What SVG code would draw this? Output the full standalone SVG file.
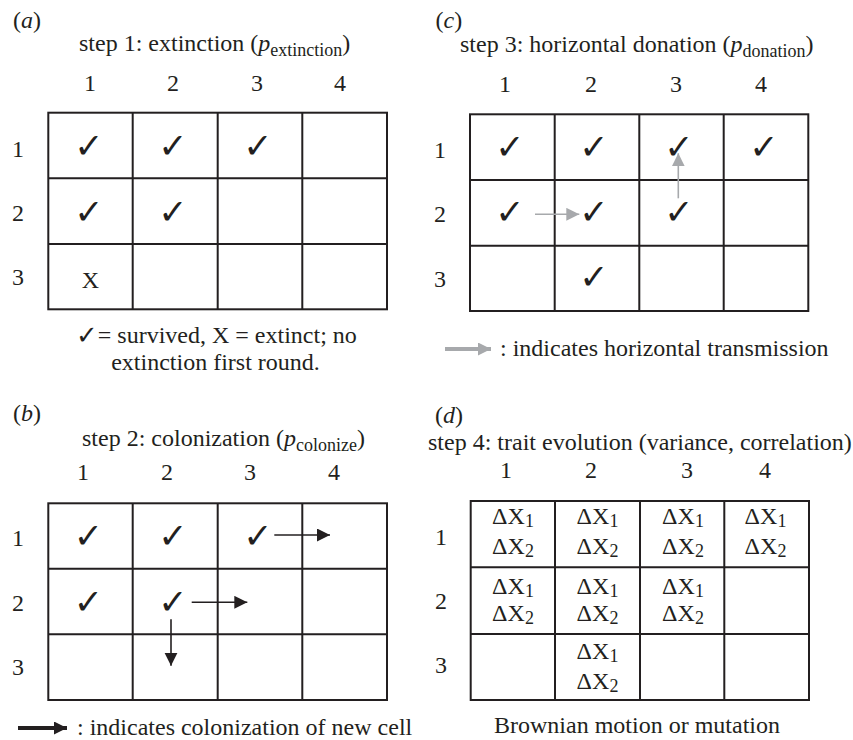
<svg xmlns="http://www.w3.org/2000/svg" width="853" height="740" viewBox="0 0 853 740">
<style>
text{font-family:"Liberation Serif","Times New Roman",serif;font-size:24px;fill:#231f20}
.it{font-style:italic}
.sub{font-size:18px}
.ck{font-family:"DejaVu Sans",sans-serif;font-size:35px;font-weight:bold;text-anchor:middle}
.m{text-anchor:middle}
.grid{fill:none;stroke:#231f20;stroke-width:2}
.blk{stroke:#231f20;stroke-width:1.6;fill:none}
.gry{stroke:#a7a9ac;stroke-width:1.6;fill:none}
</style>
<defs>
<marker id="hb" markerUnits="userSpaceOnUse" markerWidth="14" markerHeight="14" refX="13" refY="6.5" orient="auto">
<path d="M0,0 L13,6.5 L0,13 z" fill="#231f20"/>
</marker>
<marker id="hg" markerUnits="userSpaceOnUse" markerWidth="14" markerHeight="14" refX="13" refY="6.5" orient="auto">
<path d="M0,0 L13,6.5 L0,13 z" fill="#a7a9ac"/>
</marker>
</defs>
<rect width="853" height="740" fill="#fff"/>

<g id="panel-a">
<text x="13" y="28">(<tspan class="it">a</tspan>)</text>
<text x="79" y="51">step 1: extinction (<tspan class="it">p</tspan><tspan class="sub" dy="5">extinction</tspan><tspan dy="-5">)</tspan></text>
<text class="m" x="90" y="91">1</text><text class="m" x="173" y="91">2</text><text class="m" x="257" y="91">3</text><text class="m" x="340" y="91">4</text>
<text class="m" x="18" y="157">1</text><text class="m" x="18" y="221">2</text><text class="m" x="18" y="285">3</text>
<g class="grid"><rect x="48.3" y="112.7" width="338.7" height="196.6"/>
<path d="M132.7,112.7V309.3M217.7,112.7V309.3M302.3,112.7V309.3M48.3,178.3H387M48.3,244H387"/></g>
<text class="ck" x="89" y="158">✓</text><text class="ck" x="173" y="158">✓</text><text class="ck" x="258" y="158">✓</text>
<text class="ck" x="89" y="224">✓</text><text class="ck" x="173" y="224">✓</text>
<text class="m" x="90.5" y="288">X</text>
<text x="76" y="344"><tspan style="font-family:'DejaVu Sans',sans-serif;font-size:26px;font-weight:bold">✓</tspan><tspan dy="-1">= survived, X = extinct; no</tspan></text>
<text class="m" x="215.5" y="370">extinction first round.</text>
</g>

<g id="panel-c">
<text x="435.5" y="28">(<tspan class="it">c</tspan>)</text>
<text x="460" y="52">step 3: horizontal donation (<tspan class="it">p</tspan><tspan class="sub" dy="5">donation</tspan><tspan dy="-5">)</tspan></text>
<text class="m" x="505" y="92">1</text><text class="m" x="591" y="92">2</text><text class="m" x="676" y="92">3</text><text class="m" x="761" y="92">4</text>
<text class="m" x="440" y="158">1</text><text class="m" x="440" y="222">2</text><text class="m" x="440" y="287">3</text>
<g class="grid"><rect x="470" y="114.3" width="338.3" height="196.7"/>
<path d="M554.7,114.3V311M639.3,114.3V311M723.7,114.3V311M470,180H808.3M470,245.7H808.3"/></g>
<text class="ck" x="510" y="159">✓</text><text class="ck" x="594" y="159">✓</text><text class="ck" x="679" y="159">✓</text><text class="ck" x="764" y="159">✓</text>
<text class="ck" x="510" y="224">✓</text><text class="ck" x="594" y="224">✓</text><text class="ck" x="679" y="224">✓</text>
<text class="ck" x="594" y="289">✓</text>
<text x="500" y="356">: indicates horizontal transmission</text>
</g>

<g id="panel-b">
<text x="13" y="421">(<tspan class="it">b</tspan>)</text>
<text x="82" y="446">step 2: colonization (<tspan class="it">p</tspan><tspan class="sub" dy="5">colonize</tspan><tspan dy="-5">)</tspan></text>
<text class="m" x="83" y="480">1</text><text class="m" x="167" y="480">2</text><text class="m" x="250" y="480">3</text><text class="m" x="334" y="480">4</text>
<text class="m" x="18" y="546">1</text><text class="m" x="18" y="611">2</text><text class="m" x="18" y="675">3</text>
<g class="grid"><rect x="48.3" y="503.3" width="338.7" height="196.7"/>
<path d="M132.7,503.3V700M217.7,503.3V700M302.3,503.3V700M48.3,568.7H387M48.3,634.3H387"/></g>
<text class="ck" x="88.5" y="548">✓</text><text class="ck" x="173" y="548">✓</text><text class="ck" x="258" y="548">✓</text>
<text class="ck" x="88.5" y="614">✓</text><text class="ck" x="173" y="614">✓</text>
<text x="77" y="735">: indicates colonization of new cell</text>
</g>

<g id="panel-d">
<text x="435" y="423">(<tspan class="it">d</tspan>)</text>
<text x="428" y="450">step 4: trait evolution (variance, correlation)</text>
<text class="m" x="506" y="478">1</text><text class="m" x="591" y="478">2</text><text class="m" x="687" y="478">3</text><text class="m" x="765" y="478">4</text>
<text class="m" x="441" y="545">1</text><text class="m" x="441" y="609">2</text><text class="m" x="441" y="673">3</text>
<g class="grid"><rect x="470.7" y="501" width="338.3" height="199"/>
<path d="M555,501V700M640,501V700M724.3,501V700M470.7,567.3H809M470.7,634H809"/></g>
<text class="m" x="513" y="524">ΔX<tspan class="sub" dy="3">1</tspan></text><text class="m" x="513" y="553.5">ΔX<tspan class="sub" dy="3">2</tspan></text>
<text class="m" x="597.5" y="524">ΔX<tspan class="sub" dy="3">1</tspan></text><text class="m" x="597.5" y="553.5">ΔX<tspan class="sub" dy="3">2</tspan></text>
<text class="m" x="683" y="524">ΔX<tspan class="sub" dy="3">1</tspan></text><text class="m" x="683" y="553.5">ΔX<tspan class="sub" dy="3">2</tspan></text>
<text class="m" x="765.5" y="524">ΔX<tspan class="sub" dy="3">1</tspan></text><text class="m" x="765.5" y="553.5">ΔX<tspan class="sub" dy="3">2</tspan></text>
<text class="m" x="513" y="594">ΔX<tspan class="sub" dy="3">1</tspan></text><text class="m" x="513" y="621">ΔX<tspan class="sub" dy="3">2</tspan></text>
<text class="m" x="597.5" y="594">ΔX<tspan class="sub" dy="3">1</tspan></text><text class="m" x="597.5" y="621">ΔX<tspan class="sub" dy="3">2</tspan></text>
<text class="m" x="683" y="594">ΔX<tspan class="sub" dy="3">1</tspan></text><text class="m" x="683" y="621">ΔX<tspan class="sub" dy="3">2</tspan></text>
<text class="m" x="597.5" y="659">ΔX<tspan class="sub" dy="3">1</tspan></text><text class="m" x="597.5" y="689">ΔX<tspan class="sub" dy="3">2</tspan></text>
<text x="494" y="733">Brownian motion or mutation</text>
</g>

<g id="connectors">
<line class="gry" x1="535" y1="214.3" x2="579.3" y2="214.3" marker-end="url(#hg)"/>
<line class="gry" x1="678.3" y1="198.3" x2="678.3" y2="153.3" marker-end="url(#hg)"/>
<line class="gry" x1="445" y1="349" x2="491" y2="349" style="stroke-width:4" marker-end="url(#hg)"/>
<line class="blk" x1="274.3" y1="535" x2="330" y2="535" marker-end="url(#hb)"/>
<line class="blk" x1="191.7" y1="602.3" x2="247.3" y2="602.3" marker-end="url(#hb)"/>
<line class="blk" x1="171" y1="619.3" x2="171" y2="665.7" marker-end="url(#hb)"/>
<line class="blk" x1="18" y1="728" x2="67" y2="728" style="stroke-width:4" marker-end="url(#hb)"/>
</g>
</svg>
